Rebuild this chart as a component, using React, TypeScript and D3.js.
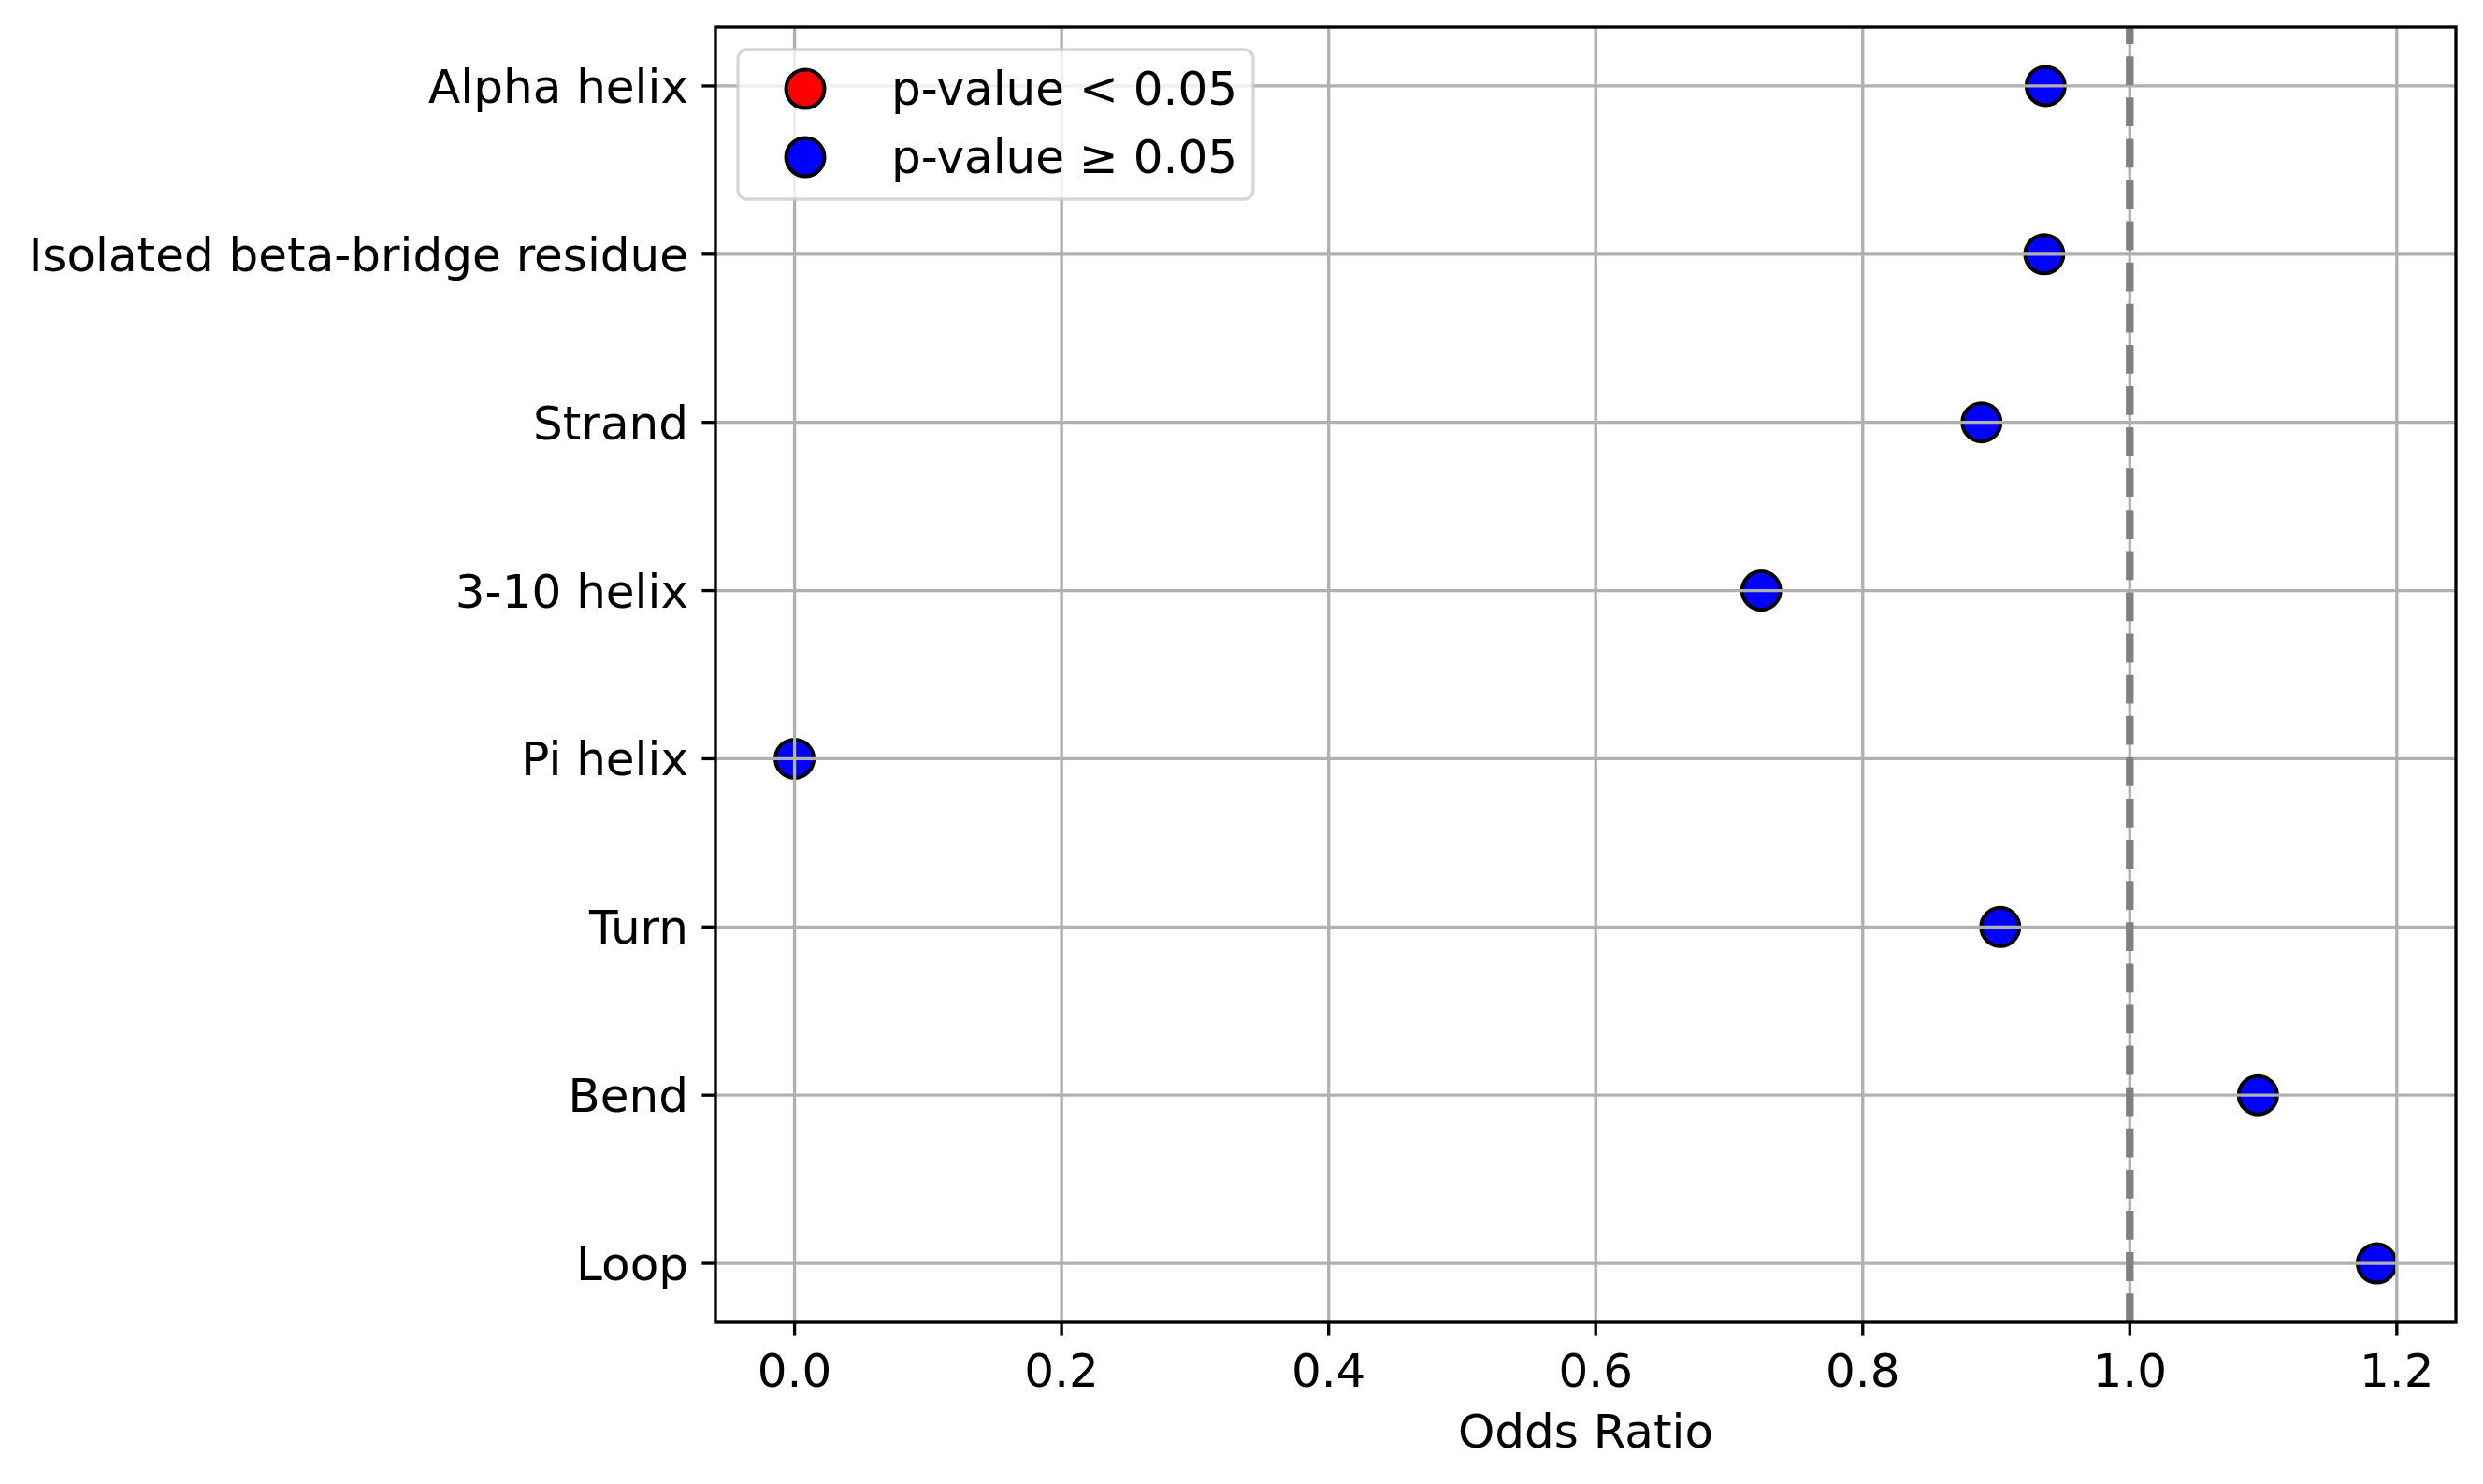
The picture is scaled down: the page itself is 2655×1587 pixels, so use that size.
import { useEffect } from "react";
import * as d3 from "d3";

// values
const categories = [
  "Alpha helix",
  "Isolated beta-bridge residue",
  "Strand",
  "3-10 helix",
  "Pi helix",
  "Turn",
  "Bend",
  "Loop",
];
const oddsRatios = [0.937, 0.936, 0.889, 0.724, 0.0, 0.903, 1.096, 1.185];
const significant = [false, false, false, false, false, false, false, false];
const xTicks = [0, 0.2, 0.4, 0.6, 0.8, 1.0, 1.2];
const legendLabels = ["p-value < 0.05", "p-value \u2265 0.05"];
const legendColors = ["#ff0000", "#0000ff"];

const W = 2655;
const H = 1587;
const M = { left: 765, right: 2626, top: 29, bottom: 1414 };
const FONT = "'DejaVu Sans', sans-serif";
const LW = 3.33; // 0.8pt at 300 dpi
const TICK = 14.6;

export default function App() {
  useEffect(() => {
    document.body.style.margin = "0";
  }, []);

  const [lo, hi] = d3.extent(oddsRatios) as [number, number];
  const pad = (hi - lo) * 0.05;
  const x = d3.scaleLinear().domain([lo - pad, hi + pad]).range([M.left, M.right]);
  const y = d3.scalePoint<string>().domain(categories).range([M.top, M.bottom]).padding(0.35);

  const r = 20.5;

  return (
    <svg width={W} height={H} style={{ display: "block", background: "#fff" }} fontFamily={FONT}>
      <defs>
        <clipPath id="plot">
          <rect x={M.left} y={M.top} width={M.right - M.left} height={M.bottom - M.top} />
        </clipPath>
      </defs>

      <g clipPath="url(#plot)">
        {/* points */}
        {categories.map((c, i) => (
          <circle
            key={c}
            cx={x(oddsRatios[i])}
            cy={y(c)}
            r={r}
            fill={significant[i] ? legendColors[0] : legendColors[1]}
            stroke="#000"
            strokeWidth={4}
          />
        ))}

        {/* grid */}
        {xTicks.map((t) => (
          <line key={"gx" + t} x1={x(t)} x2={x(t)} y1={M.top} y2={M.bottom} stroke="#b0b0b0" strokeWidth={LW} />
        ))}
        {categories.map((c) => (
          <line key={"gy" + c} x1={M.left} x2={M.right} y1={y(c)} y2={y(c)} stroke="#b0b0b0" strokeWidth={LW} />
        ))}

        {/* reference line at OR = 1 */}
        <line
          x1={x(1)}
          x2={x(1)}
          y1={M.bottom}
          y2={M.top}
          stroke="#808080"
          strokeWidth={8.33}
          strokeDasharray="30.8 13.3"
        />
      </g>

      {/* legend */}
      <g>
        <rect
          x={789}
          y={53}
          width={1340 - 789}
          height={213 - 53}
          rx={10}
          fill="#fff"
          fillOpacity={0.8}
          stroke="#cccccc"
          strokeOpacity={0.8}
          strokeWidth={LW}
        />
        {legendLabels.map((l, i) => (
          <g key={l} transform={`translate(0, ${95 + i * 73})`}>
            <circle cx={861} cy={0} r={r} fill={legendColors[i]} stroke="#000" strokeWidth={4} />
            <text x={953} y={17} fontSize={50} fill="#000">
              {l}
            </text>
          </g>
        ))}
      </g>

      {/* spines */}
      <rect
        x={M.left}
        y={M.top}
        width={M.right - M.left}
        height={M.bottom - M.top}
        fill="none"
        stroke="#000"
        strokeWidth={LW}
      />

      {/* x axis */}
      {xTicks.map((t) => (
        <g key={"xt" + t}>
          <line x1={x(t)} x2={x(t)} y1={M.bottom} y2={M.bottom + TICK} stroke="#000" strokeWidth={LW} />
          <text x={x(t)} y={1483} textAnchor="middle" fontSize={50} fill="#000">
            {d3.format(".1f")(t)}
          </text>
        </g>
      ))}
      <text x={(M.left + M.right) / 2} y={1548} textAnchor="middle" fontSize={50} fill="#000">
        Odds Ratio
      </text>

      {/* y axis */}
      {categories.map((c) => (
        <g key={"yt" + c}>
          <line x1={M.left - TICK} x2={M.left} y1={y(c)} y2={y(c)} stroke="#000" strokeWidth={LW} />
          <text x={M.left - 29} y={(y(c) as number) + 18} textAnchor="end" fontSize={50} fill="#000">
            {c}
          </text>
        </g>
      ))}
    </svg>
  );
}
